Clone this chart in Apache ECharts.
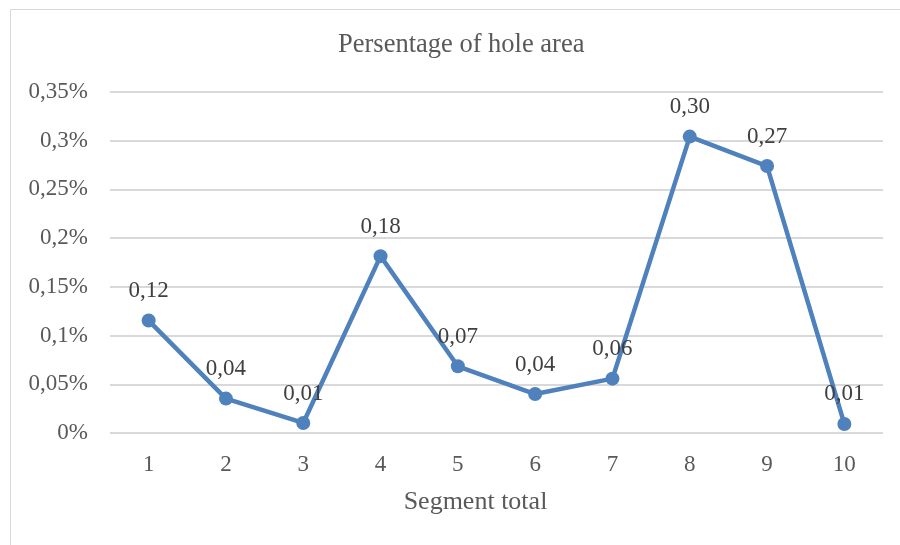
<!DOCTYPE html>
<html>
<head>
<meta charset="utf-8">
<style>
  html, body { margin: 0; padding: 0; background: #fff; }
  #chart { width: 900px; height: 545px; }
</style>
<script src="https://cdn.jsdelivr.net/npm/echarts@6/dist/echarts.min.js"></script>
</head>
<body>
<div id="chart"></div>
<script>
// Segment numbers along the x axis
const segments = ['1', '2', '3', '4', '5', '6', '7', '8', '9', '10'];
// Hole area as a percentage of each segment
const holeAreaPct = [0.1154, 0.0353, 0.0103, 0.1815, 0.0685, 0.040, 0.0558, 0.3042, 0.274, 0.0093];
// Y axis range and step, in percent
const yMin = 0;
const yMax = 0.35;
const yStep = 0.05;

const font = '"Liberation Serif", "Times New Roman", serif';

function pctTick(v) {
  return String(+v.toFixed(2)).replace('.', ',') + '%';
}

const chart = echarts.init(document.getElementById('chart'), null, { renderer: 'canvas' });

chart.setOption({
  backgroundColor: '#ffffff',
  animation: false,
  graphic: [{
    type: 'rect',
    shape: { x: 10.5, y: 9.5, width: 1000, height: 1000 },
    style: { fill: 'none', stroke: '#d9d9d9', lineWidth: 1 },
    silent: true,
    z: -10
  }],
  title: {
    text: 'Persentage of hole area',
    left: 338,
    top: 32,
    padding: 0,
    textStyle: { fontFamily: font, fontSize: 26.5, fontWeight: 'normal', color: '#595959' }
  },
  grid: { left: 110, right: 17, top: 92, bottom: 112, containLabel: false },
  xAxis: {
    type: 'category',
    data: segments,
    boundaryGap: true,
    name: 'Segment total',
    nameLocation: 'middle',
    nameGap: 56,
    nameTextStyle: { fontFamily: font, fontSize: 26, color: '#595959', padding: [0, 42, 0, 0] },
    axisLine: { show: false },
    axisTick: { show: false },
    axisLabel: { fontFamily: font, fontSize: 23, color: '#595959', margin: 20 }
  },
  yAxis: {
    type: 'value',
    min: yMin,
    max: yMax,
    interval: yStep,
    axisLine: { show: false },
    axisTick: { show: false },
    splitLine: { lineStyle: { color: '#d9d9d9', width: 1.8 } },
    axisLabel: { fontFamily: font, fontSize: 23, color: '#595959', margin: 22, formatter: pctTick }
  },
  series: [{
    type: 'line',
    data: holeAreaPct,
    symbol: 'circle',
    symbolSize: 14,
    lineStyle: { color: '#4f81bd', width: 4.5 },
    itemStyle: { color: '#4f81bd' },
    label: {
      show: true,
      position: 'top',
      distance: 11,
      fontFamily: font,
      fontSize: 23,
      color: '#404040',
      formatter: p => p.value.toFixed(2).replace('.', ',')
    }
  }]
});
</script>
</body>
</html>
